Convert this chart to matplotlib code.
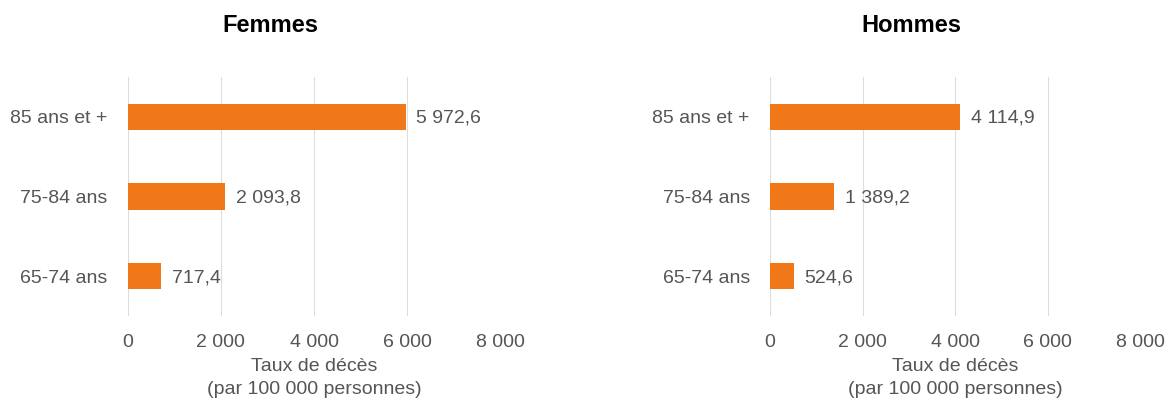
import matplotlib.pyplot as plt
import numpy as np

# données
age_groups = ["65-74 ans", "75-84 ans", "85 ans et +"]
femmes = [717.4, 2093.8, 5972.6]
hommes = [524.6, 1389.2, 4114.9]
panels = ["Femmes", "Hommes"]
xticks = [0, 2000, 4000, 6000, 8000]

ORANGE = "#F07819"
GREY = "#555555"

plt.rcParams["font.family"] = ["Liberation Sans", "DejaVu Sans"]


def fmt(v, dec=1):
    s = f"{v:,.{dec}f}"
    return s.replace(",", " ").replace(".", ",")


fig = plt.figure(figsize=(11.72, 4.03), dpi=100)
axes = [fig.add_axes([0.109, 0.216, 0.318, 0.593]),
        fig.add_axes([0.657, 0.216, 0.316, 0.593])]
title_x = [270 / 1172, 911 / 1172]

for ax, name, vals, tx in zip(axes, panels, [femmes, hommes], title_x):
    y = np.arange(len(age_groups))
    ax.barh(y, vals, height=0.33, color=ORANGE, zorder=3)
    for yi, v in zip(y, vals):
        ax.annotate(fmt(v), (v, yi), xytext=(7.5, -1), textcoords="offset points",
                    va="center", ha="left", fontsize=14, color=GREY)
    ax.set_xlim(0, 8000)
    ax.set_ylim(-0.5, 2.5)
    ax.set_xticks(xticks)
    ax.set_xticklabels([fmt(t, 0) for t in xticks], fontsize=14, color=GREY)
    ax.set_yticks(y)
    ax.set_yticklabels(age_groups, fontsize=14, color=GREY)
    ax.tick_params(length=0, axis="x", pad=13)
    ax.tick_params(length=0, axis="y", pad=14.5)
    ax.grid(axis="x", color="#dddddd", linewidth=0.8, zorder=0)
    for sp in ax.spines.values():
        sp.set_visible(False)
    ax.set_xlabel("Taux de décès\n(par 100 000 personnes)", fontsize=14,
                  color=GREY, labelpad=5, linespacing=1.45)
    fig.text(tx, 1 - 25 / 403, name, ha="center", va="center",
             fontsize=17, fontweight="bold", color="black")

fig.savefig("out.png", dpi=100)
